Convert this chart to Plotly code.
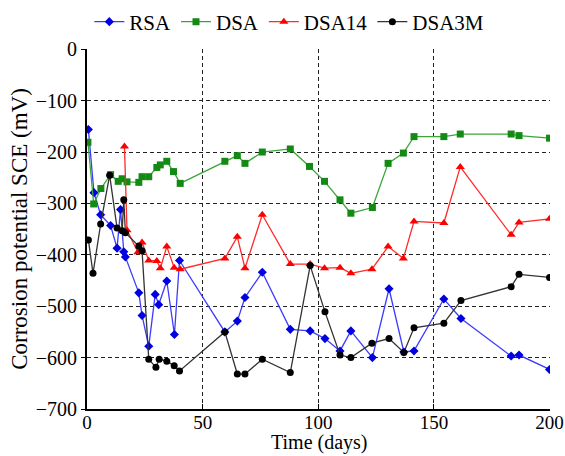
import plotly.graph_objects as go

# ---- data ----
rsa_x = [0.6, 3, 5.9, 10.2, 13, 14.5, 15.9, 16.6, 22.4, 23.8, 26.7, 29.5, 31, 34.5, 37.8, 40,
         59.6, 65, 68.3, 75.8, 87.9, 96.5, 102.9, 109.4, 114.1, 123.4, 130.6, 137, 141.4,
         154.3, 161.7, 183.4, 186.8, 200]
rsa_y = [-156, -279, -322, -343, -387, -312, -394, -404, -474, -518, -578, -477, -497, -451, -555, -411,
         -550, -529, -483, -434, -545, -548, -563, -587, -548, -600, -466, -589, -587,
         -486, -524, -597, -595, -623]

dsa_x = [0.4, 2.9, 6.0, 10.2, 13.5, 15.2, 17.3, 22.4, 23.8, 26.7, 30.2, 31.7, 34.5, 37.4, 40.3,
         59.6, 65, 68.3, 75.8, 87.9, 96.2, 102.7, 109.4, 114.1, 123.4, 130.2, 136.8, 141.4,
         154.3, 161.4, 183.4, 186.8, 200]
dsa_y = [-181, -301, -271, -244, -257, -252, -258, -259, -248, -248, -230, -225, -218, -238, -261,
         -218, -207, -222, -200, -194, -228, -257, -293, -319, -308, -222, -202, -170,
         -170, -165, -165, -168, -173]

dsa14_x = [16.2, 17.3, 22.0, 23.8, 26.7, 30.2, 31.7, 34.5, 37.7, 40.3,
           59.6, 65, 68.3, 75.8, 87.9, 96.5, 102.7, 109.4, 114.1, 123.2, 130.2, 136.8, 141.4,
           154.3, 161.4, 183.4, 186.8, 200]
dsa14_y = [-189, -352, -395, -376, -411, -412, -426, -384, -425, -428,
           -407, -365, -426, -322, -418, -418, -426, -425, -436, -428, -384, -407, -335,
           -338, -229, -361, -337, -330]

dsa3m_x = [0.6, 2.6, 5.9, 9.8, 13, 15.2, 15.9, 16.6, 22.4, 23.8, 26.7, 29.8, 31.2, 34.5, 37.7, 40,
           59.6, 65, 68.3, 75.8, 87.9, 96.5, 102.9, 109.4, 114.1, 123.2, 130.6, 137, 141.4,
           154.3, 161.7, 183.4, 186.8, 200]
dsa3m_y = [-371, -436, -340, -245, -348, -353, -293, -357, -383, -392, -603, -619, -603, -607, -616, -626,
           -550, -632, -632, -603, -629, -421, -511, -595, -600, -572, -563, -590, -542,
           -533, -489, -462, -438, -444]

x_ticks = [0, 50, 100, 150, 200]
y_ticks = [0, -100, -200, -300, -400, -500, -600, -700]
x_title = "Time (days)"
y_title = "Corrosion potential SCE (mV)"

FONT = "Liberation Serif"

fig = go.Figure()
fig.add_trace(go.Scatter(x=rsa_x, y=rsa_y, name="RSA", mode="lines+markers",
                         line=dict(color="#3b3bff", width=1.3),
                         marker=dict(symbol="diamond", size=7, color="#0000e0")))
fig.add_trace(go.Scatter(x=dsa_x, y=dsa_y, name="DSA", mode="lines+markers",
                         line=dict(color="#3aa63a", width=1.3),
                         marker=dict(symbol="square", size=7, color="#138a13")))
fig.add_trace(go.Scatter(x=dsa14_x, y=dsa14_y, name="DSA14", mode="lines+markers",
                         line=dict(color="#ff2a2a", width=1.3),
                         marker=dict(symbol="triangle-up", size=8, color="#ff0000")))
fig.add_trace(go.Scatter(x=dsa3m_x, y=dsa3m_y, name="DSA3M", mode="lines+markers",
                         line=dict(color="#333333", width=1.3),
                         marker=dict(symbol="circle", size=7, color="#000000")))

fig.update_layout(
    width=565, height=456,
    margin=dict(l=87, r=15, t=49, b=47, autoexpand=False),
    paper_bgcolor="white", plot_bgcolor="white",
    font=dict(family=FONT, size=20, color="black"),
    showlegend=True,
    legend=dict(orientation="h", x=0.005, xanchor="left", y=1.075, yanchor="middle",
                font=dict(family=FONT, size=21), bgcolor="rgba(0,0,0,0)",
                itemwidth=30, tracegroupgap=0),
    annotations=[dict(text=x_title, xref="paper", yref="paper", x=0.5, xanchor="center",
                      y=-47 / 360, yanchor="bottom", showarrow=False,
                      font=dict(family=FONT, size=20, color="black"))],
)
fig.update_xaxes(range=[0, 200.2], tickvals=x_ticks, showgrid=True, automargin=False,
                 gridcolor="#222222", griddash="4px,3px", gridwidth=1,
                 showline=True, linecolor="black", linewidth=2,
                 ticks="inside", ticklen=5, tickcolor="black",
                 ticklabeloverflow="allow", ticklabelstandoff=-5,
                 zeroline=False, tickfont=dict(size=19))
fig.update_yaxes(range=[-700, 0.5], tickvals=y_ticks, showgrid=True, automargin=False,
                 gridcolor="#222222", griddash="4px,3px", gridwidth=1,
                 showline=True, linecolor="black", linewidth=2,
                 ticks="outside", ticklen=4, tickcolor="black",
                 zeroline=False, tickfont=dict(size=20),
                 title=dict(text=y_title, standoff=2, font=dict(size=23)))

fig.write_html("out.html")
